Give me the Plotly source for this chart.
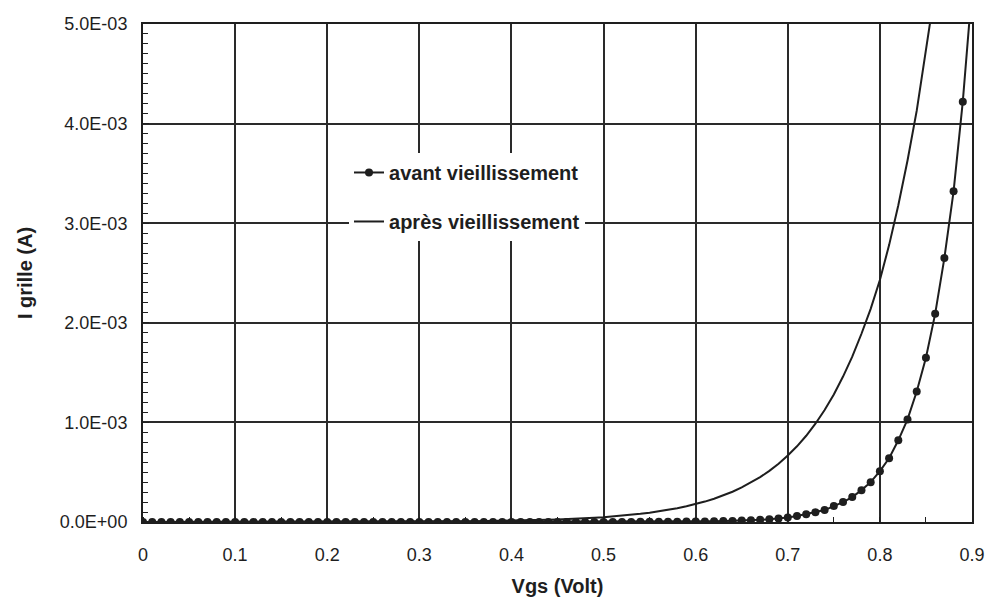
import plotly.graph_objects as go

# ---- data ----
vgs = [0.00, 0.01, 0.02, 0.03, 0.04, 0.05, 0.06, 0.07, 0.08, 0.09,
       0.10, 0.11, 0.12, 0.13, 0.14, 0.15, 0.16, 0.17, 0.18, 0.19,
       0.20, 0.21, 0.22, 0.23, 0.24, 0.25, 0.26, 0.27, 0.28, 0.29,
       0.30, 0.31, 0.32, 0.33, 0.34, 0.35, 0.36, 0.37, 0.38, 0.39,
       0.40, 0.41, 0.42, 0.43, 0.44, 0.45, 0.46, 0.47, 0.48, 0.49,
       0.50, 0.51, 0.52, 0.53, 0.54, 0.55, 0.56, 0.57, 0.58, 0.59,
       0.60, 0.61, 0.62, 0.63, 0.64, 0.65, 0.66, 0.67, 0.68, 0.69,
       0.70, 0.71, 0.72, 0.73, 0.74, 0.75, 0.76, 0.77, 0.78, 0.79,
       0.80, 0.81, 0.82, 0.83, 0.84, 0.85, 0.86, 0.87, 0.88, 0.89,
       0.90]

# grid current before ageing, in mA
avant_mA = [0, 0, 0, 0, 0, 0, 0, 0, 0, 0,
            0, 0, 0, 0, 0, 0, 0, 0, 0, 0,
            0, 0, 0, 0, 0, 0, 0, 0, 0, 0,
            0, 0, 0, 0, 0, 0, 0, 0, 0, 0,
            0, 0, 0, 0, 0, 0, 0, 0, 0, 0,
            0.001, 0.001, 0.001, 0.001, 0.002, 0.002, 0.002, 0.003, 0.003, 0.004,
            0.005, 0.006, 0.007, 0.009, 0.011, 0.014, 0.018, 0.022, 0.028, 0.035,
            0.045, 0.060, 0.078, 0.097, 0.120, 0.160, 0.200, 0.250, 0.320, 0.400,
            0.510, 0.640, 0.820, 1.030, 1.310, 1.650, 2.090, 2.650, 3.320, 4.220,
            5.350]

vgs_apres = vgs[:87]
# grid current after ageing, in mA
apres_mA = [0, 0, 0, 0, 0, 0, 0, 0, 0, 0,
            0, 0, 0, 0, 0, 0, 0, 0, 0, 0,
            0.001, 0.001, 0.001, 0.001, 0.001, 0.002, 0.002, 0.002, 0.002, 0.003,
            0.003, 0.004, 0.004, 0.005, 0.006, 0.007, 0.008, 0.009, 0.010, 0.011,
            0.013, 0.015, 0.017, 0.019, 0.022, 0.025, 0.028, 0.032, 0.037, 0.042,
            0.048, 0.055, 0.063, 0.072, 0.082, 0.094, 0.107, 0.122, 0.139, 0.158,
            0.180, 0.205, 0.234, 0.267, 0.304, 0.347, 0.395, 0.450, 0.513, 0.585,
            0.667, 0.760, 0.866, 0.987, 1.125, 1.280, 1.460, 1.660, 1.890, 2.140,
            2.430, 2.780, 3.180, 3.630, 4.130, 4.700, 5.350]

x_ticks = [0, 0.1, 0.2, 0.3, 0.4, 0.5, 0.6, 0.7, 0.8, 0.9]
x_ticktext = ["0", "0.1", "0.2", "0.3", "0.4", "0.5", "0.6", "0.7", "0.8", "0.9"]
y_ticks = [0, 0.001, 0.002, 0.003, 0.004, 0.005]
y_ticktext = ["0.0E+00", "1.0E-03", "2.0E-03", "3.0E-03", "4.0E-03", "5.0E-03"]

avant = [v * 1e-3 for v in avant_mA]
apres = [v * 1e-3 for v in apres_mA]

FONT = "Liberation Sans, Arial, sans-serif"
INK = "#1e1e1e"

fig = go.Figure()
fig.add_trace(go.Scatter(
    x=vgs, y=avant, mode="lines+markers", name="avant vieillissement",
    legendgroup="a",
    line=dict(color=INK, width=2),
    marker=dict(color=INK, size=8, symbol="circle"),
    cliponaxis=True,
))
fig.add_trace(go.Scatter(
    x=vgs_apres, y=apres, mode="lines", name="après vieillissement",
    legendgroup="b",
    line=dict(color=INK, width=2),
    cliponaxis=True,
))

fig.update_layout(
    width=990, height=599,
    margin=dict(l=143, r=18, t=24, b=77, autoexpand=False),
    paper_bgcolor="white", plot_bgcolor="white",
    font=dict(family=FONT, color=INK, size=18),
    showlegend=True,
    legend=dict(
        x=0.2485, y=0.741, xanchor="left", yanchor="top",
        bgcolor="white", borderwidth=0,
        font=dict(family=FONT, size=20, color=INK, weight="bold"),
        traceorder="grouped", tracegroupgap=20, itemwidth=30,
    ),
    shapes=[dict(type="rect", xref="paper", yref="paper",
                 x0=(320 - 143) / 829, x1=(617 - 143) / 829,
                 y0=(522 - 240) / 498, y1=(522 - 148) / 498,
                 fillcolor="white", line=dict(width=0), layer="between")],
)

fig.update_xaxes(
    range=[0, 0.9], tickvals=x_ticks, ticktext=x_ticktext, automargin=False,
    showgrid=True, gridcolor="#2a2a2a", gridwidth=1.7,
    showline=True, linecolor=INK, linewidth=2, mirror=True,
    zeroline=False, ticks="", ticklabelstandoff=15,
    tickfont=dict(size=18, family=FONT, color=INK),
    minor=dict(dtick=0.05, ticks="inside", ticklen=5, tickcolor=INK, showgrid=False),
    title=dict(text="<b>Vgs (Volt)</b>", font=dict(size=20, family=FONT, color=INK), standoff=15),
)
fig.update_yaxes(
    range=[0, 0.005], tickvals=y_ticks, ticktext=y_ticktext, automargin=False,
    showgrid=True, gridcolor="#2a2a2a", gridwidth=1.7,
    showline=True, linecolor=INK, linewidth=2, mirror=True,
    zeroline=False, ticks="inside", ticklen=6, tickcolor=INK, ticklabelstandoff=10,
    tickfont=dict(size=18, family=FONT, color=INK),
    minor=dict(dtick=0.0001, ticks="inside", ticklen=5, tickcolor=INK, showgrid=False),
    title=dict(text="<b>I grille (A)</b>", font=dict(size=20, family=FONT, color=INK), standoff=22),
)

fig.write_html("out.html")
